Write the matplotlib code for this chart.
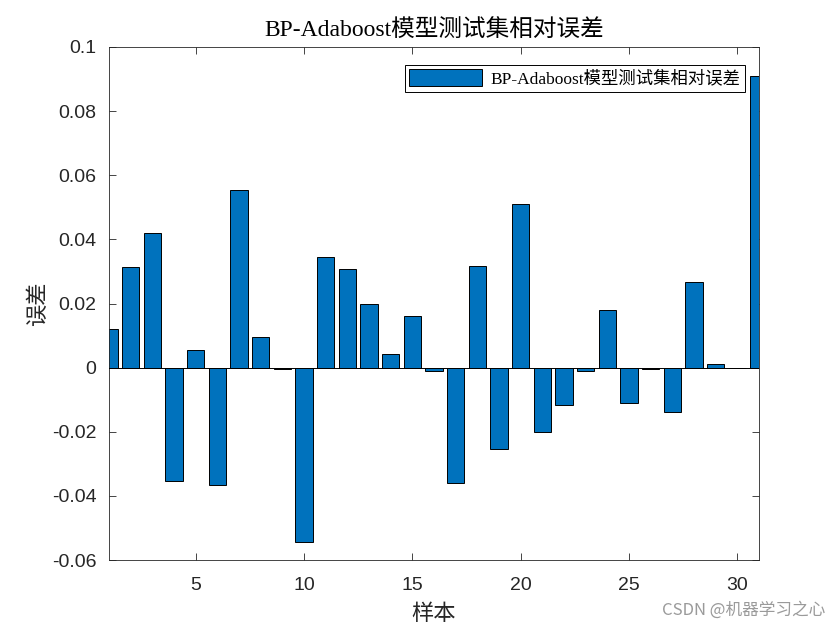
import numpy as np
import matplotlib.pyplot as plt

plt.rcParams['font.family'] = ['Liberation Sans', 'Noto Sans CJK SC']

samples = np.arange(1, 32)
rel_err = [0.0122, 0.0315, 0.0420, -0.0353, 0.0056, -0.0365, 0.0555, 0.0097,
           -0.0003, -0.0543, 0.0346, 0.0309, 0.0200, 0.0041, 0.0162, -0.0010,
           -0.0359, 0.0318, -0.0253, 0.0509, -0.0200, -0.0115, -0.0012, 0.0180,
           -0.0110, -0.0003, -0.0137, 0.0268, 0.0010, 0.0, 0.0908]

serif_cjk = ['Liberation Serif', 'Noto Sans CJK SC']

fig = plt.figure(figsize=(8.4, 6.3), dpi=100)
ax = fig.add_axes([0.1298, 0.1111, 0.7738, 0.8143])

ax.bar(samples, rel_err, width=0.8, color='#0072BD', edgecolor='black',
       linewidth=0.7, label='BP-Adaboost模型测试集相对误差', zorder=2)
ax.axhline(0, color='black', linewidth=0.7, zorder=3)

ax.set_xlim(1, 31)
ax.set_ylim(-0.06, 0.1)
ax.set_xticks([5, 10, 15, 20, 25, 30])
ax.set_yticks(np.arange(-0.06, 0.1001, 0.02))
ax.set_yticklabels(['-0.06', '-0.04', '-0.02', '0', '0.02', '0.04', '0.06', '0.08', '0.1'])
ax.tick_params(direction='in', top=True, right=True, labelsize=14, length=5, width=0.6,
               colors='#262626', labelcolor='#262626')
ax.tick_params(axis='x', pad=12)
ax.tick_params(axis='y', pad=9)
for s in ax.spines.values():
    s.set_linewidth(0.6)
    s.set_color('#262626')

ax.set_title('BP-Adaboost模型测试集相对误差', family=serif_cjk, fontsize=17, pad=7)
ax.set_xlabel('样本', family=serif_cjk, fontsize=16, color='#262626', labelpad=8)
ax.set_ylabel('误差', family=serif_cjk, fontsize=16, color='#262626', labelpad=2)

leg = ax.legend(loc='upper right', bbox_to_anchor=(0.9785, 0.965),
                prop={'family': serif_cjk, 'size': 12.5},
                fancybox=False, edgecolor='black', framealpha=1,
                borderaxespad=0, handlelength=4.2, handleheight=1.1,
                borderpad=0.25, handletextpad=0.5)
leg.get_frame().set_linewidth(0.7)

fig.text(0.983, 0.018, 'CSDN @机器学习之心', ha='right', va='bottom',
         fontsize=12, color='#9a9a9a', family=['Noto Sans CJK SC', 'DejaVu Sans'])

plt.savefig('out.png', dpi=100)
